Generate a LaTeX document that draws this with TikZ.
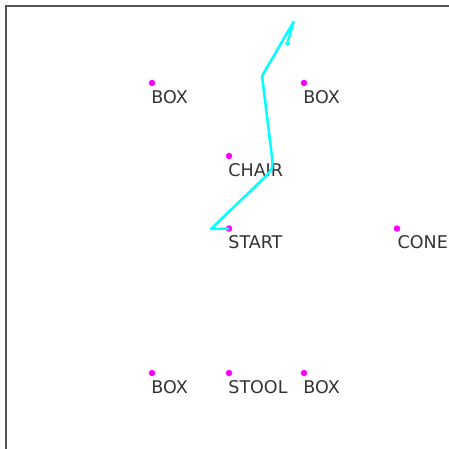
\documentclass[tikz,border=0pt]{standalone}
\usepackage{fontspec}
\setmainfont{DejaVu Sans}
\usetikzlibrary{positioning, calc}

\definecolor{ptmag}{RGB}{255,0,255}
\definecolor{trailcol}{RGB}{0,255,255}
\definecolor{framecol}{RGB}{85,85,85}
\definecolor{txtcol}{RGB}{50,50,50}

\begin{document}
\begin{tikzpicture}[
    x=1pt, y=-1pt,
    dot/.style={
        fill=ptmag,
        circle,
        inner sep=0pt,
        minimum size=6.5pt
    },
    lbl/.style={
        text=txtcol,
        font=\fontsize{17.5}{20}\selectfont,
        inner sep=0pt,
        anchor=base west
    },
    trail/.style={
        draw=trailcol,
        line width=2.5pt,
        line join=round
    }
]

\useasboundingbox (0,0) rectangle (449,449);

% ==========================================
% FRAME
% ==========================================
\draw[framecol, line width=2.2pt] (6,449) -- (6,6) -- (449,6);

% ==========================================
% OBJECTS
% ==========================================

% Points
\node[dot] (box1) at (152,83) {};
\node[dot] (box2) at (304,83) {};
\node[dot] (chair) at (229,156) {};
\node[dot] (start) at (229,228.5) {};
\node[dot] (cone) at (397,228.5) {};
\node[dot] (box3) at (152,373) {};
\node[dot] (stool) at (229,373) {};
\node[dot] (box4) at (304,373) {};

% Labels
\node[lbl] (lbox1) at ($(box1)+(-0.8,20.3)$) {BOX};
\node[lbl] (lbox2) at ($(box2)+(-0.8,20.3)$) {BOX};
\node[lbl] (lchair) at ($(chair)+(-0.8,20.3)$) {CHAIR};
\node[lbl] (lstart) at ($(start)+(-0.8,19.5)$) {START};
\node[lbl] (lcone) at ($(cone)+(0.5,19.5)$) {CONE};
\node[lbl] (lbox3) at ($(box3)+(-0.8,20.3)$) {BOX};
\node[lbl] (lstool) at ($(stool)+(-0.8,20.3)$) {STOOL};
\node[lbl] (lbox4) at ($(box4)+(-0.8,20.3)$) {BOX};

% ==========================================
% TRAIL
% ==========================================
\coordinate (t1) at (211,229);
\coordinate (t2) at (266,176);
\coordinate (t3) at (272,157);
\coordinate (t4) at (262,76);
\coordinate (t5) at (293.5,22);
\coordinate (t6) at (288,41);

\draw[trail] (start.center) -- (t1) -- (t2) .. controls (273,168) .. (t3)
    -- (t4) -- (t5) -- (t6);
\draw[trailcol, line width=1.2pt] (287.5,43.5) circle (1.8pt);

\end{tikzpicture}
\end{document}
